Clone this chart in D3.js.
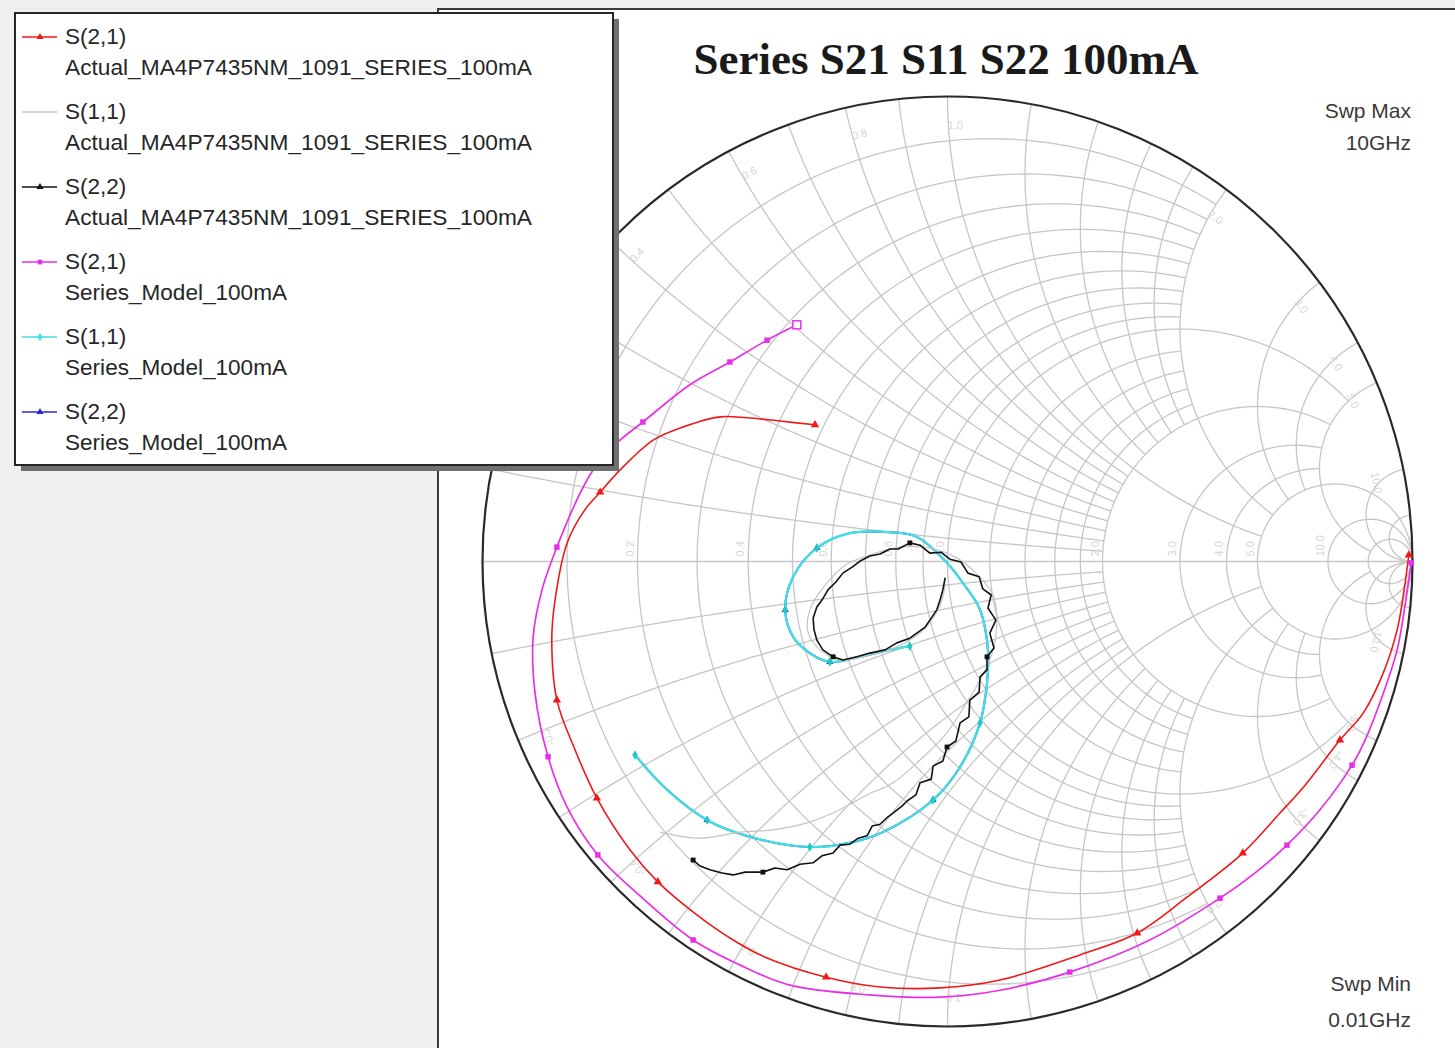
<!DOCTYPE html>
<html><head><meta charset="utf-8">
<script src="https://cdn.jsdelivr.net/npm/d3@7"></script>
<style>
html,body{margin:0;padding:0;background:#efefef;}
svg{display:block;}
</style></head>
<body>
<svg id="chart" width="1455" height="1048"></svg>
<script>
// ---------------- DATA (reflection / transmission coefficient, [Re, Im]) ----------------
const s21Actual = [
 [0.992,0.014],[0.982,-0.061],[0.967,-0.147],[0.937,-0.240],[0.894,-0.326],[0.844,-0.384],
 [0.769,-0.481],[0.715,-0.541],[0.635,-0.627],[0.515,-0.722],[0.408,-0.799],[0.285,-0.846],
 [0.113,-0.900],[-0.016,-0.917],[-0.145,-0.915],[-0.261,-0.894],[-0.392,-0.851],[-0.461,-0.814],
 [-0.539,-0.760],[-0.623,-0.689],[-0.683,-0.620],[-0.754,-0.509],[-0.801,-0.405],[-0.840,-0.298],
 [-0.851,-0.169],[-0.844,-0.083],[-0.818,0.040],[-0.780,0.111],[-0.747,0.149],[-0.704,0.197],
 [-0.633,0.261],[-0.575,0.287],[-0.489,0.311],[-0.431,0.309],[-0.360,0.302],[-0.285,0.294]
];
const s21ActualMarks = [0,5,8,10,15,19,21,23,28,35];

const s11Actual = [
 [-0.618,-0.582],[-0.532,-0.595],[-0.446,-0.582],[-0.375,-0.577],[-0.302,-0.562],[-0.246,-0.541],
 [-0.173,-0.502],[-0.117,-0.476],[-0.059,-0.427],[-0.005,-0.373],[0.038,-0.309],[0.070,-0.255],
 [0.098,-0.190],[0.106,-0.126],[0.098,-0.072],[0.059,-0.023],[0.016,0.010],[-0.038,0.029],
 [-0.102,0.031],[-0.167,0.014],[-0.220,-0.008],[-0.263,-0.051],[-0.296,-0.104],[-0.300,-0.152],
 [-0.274,-0.190],[-0.231,-0.212],[-0.167,-0.201],[-0.102,-0.180],[-0.048,-0.143],[-0.016,-0.094],
 [-0.005,-0.051]
];

const s22Actual = [
 [-0.547,-0.642],[-0.532,-0.655],[-0.511,-0.663],[-0.485,-0.670],[-0.461,-0.674],[-0.435,-0.668],
 [-0.397,-0.668],[-0.371,-0.659],[-0.345,-0.663],[-0.317,-0.651],[-0.289,-0.648],[-0.270,-0.633],
 [-0.246,-0.627],[-0.231,-0.610],[-0.210,-0.608],[-0.192,-0.595],[-0.173,-0.590],[-0.162,-0.569],
 [-0.145,-0.565],[-0.128,-0.549],[-0.117,-0.541],[-0.098,-0.526],[-0.087,-0.515],[-0.068,-0.502],
 [-0.059,-0.476],[-0.035,-0.468],[-0.031,-0.440],[-0.010,-0.429],[-0.001,-0.399],[0.018,-0.386],
 [0.027,-0.347],[0.046,-0.334],[0.048,-0.298],[0.068,-0.281],[0.070,-0.248],[0.085,-0.233],
 [0.085,-0.205],[0.100,-0.186],[0.091,-0.154],[0.104,-0.126],[0.087,-0.100],[0.094,-0.072],
 [0.076,-0.059],[0.068,-0.033],[0.044,-0.025],[0.029,-0.001],[0.005,0.005],[-0.014,0.020],
 [-0.038,0.018],[-0.059,0.035],[-0.081,0.040],[-0.106,0.027],[-0.124,0.027],[-0.145,0.016],
 [-0.167,0.012],[-0.188,0.001],[-0.205,-0.012],[-0.225,-0.025],[-0.240,-0.044],[-0.257,-0.061],
 [-0.270,-0.083],[-0.281,-0.098],[-0.289,-0.122],[-0.287,-0.147],[-0.281,-0.169],[-0.268,-0.190],
 [-0.246,-0.205],[-0.225,-0.212],[-0.195,-0.205],[-0.167,-0.197],[-0.134,-0.190],[-0.109,-0.175],
 [-0.081,-0.165],[-0.066,-0.154],[-0.048,-0.141],[-0.038,-0.126],[-0.023,-0.104],[-0.016,-0.083],
 [-0.010,-0.061],[-0.005,-0.035]
];
const s22ActualMarks = [0,6,28,36,50,66];

const s21Model = [
 [0.997,-0.003],[0.984,-0.094],[0.967,-0.190],[0.932,-0.298],[0.898,-0.384],[0.870,-0.438],
 [0.801,-0.534],[0.730,-0.610],[0.661,-0.670],[0.586,-0.724],[0.435,-0.814],[0.263,-0.883],
 [0.113,-0.922],[-0.016,-0.937],[-0.167,-0.932],[-0.339,-0.911],[-0.446,-0.868],[-0.547,-0.814],
 [-0.668,-0.713],[-0.752,-0.631],[-0.818,-0.528],[-0.859,-0.420],[-0.887,-0.283],[-0.891,-0.162],
 [-0.872,-0.061],[-0.840,0.031],[-0.790,0.147],[-0.762,0.197],[-0.711,0.255],[-0.655,0.300],
 [-0.554,0.380],[-0.468,0.429],[-0.388,0.476],[-0.324,0.509]
];
const s21ModelMarks = [0,5,7,9,11,17,19,21,25,29,31,32];

const s11Model = [
 [-0.672,-0.416],[-0.603,-0.491],[-0.517,-0.556],[-0.425,-0.592],[-0.296,-0.614],[-0.210,-0.605],
 [-0.139,-0.582],[-0.031,-0.513],[0.027,-0.442],[0.070,-0.347],[0.085,-0.261],[0.087,-0.190],
 [0.070,-0.104],[0.033,-0.046],[-0.001,-0.003],[-0.066,0.053],[-0.124,0.063],[-0.210,0.061],
 [-0.281,0.029],[-0.332,-0.033],[-0.349,-0.104],[-0.332,-0.162],[-0.296,-0.197],[-0.253,-0.216],
 [-0.188,-0.205],[-0.124,-0.190],[-0.081,-0.182]
];
const s11ModelMarks = [0,2,4,7,9,18,20,23,26];

const s22Model = [
 [-0.672,-0.416],[-0.603,-0.491],[-0.517,-0.556],[-0.425,-0.592],[-0.296,-0.614],[-0.210,-0.605],
 [-0.139,-0.582],[-0.031,-0.513],[0.027,-0.442],[0.070,-0.347],[0.085,-0.261],[0.087,-0.190],
 [0.070,-0.104],[0.033,-0.046],[-0.001,-0.003],[-0.066,0.053],[-0.124,0.063],[-0.210,0.061],
 [-0.281,0.029],[-0.332,-0.033],[-0.349,-0.104],[-0.332,-0.162],[-0.296,-0.197],[-0.253,-0.216],
 [-0.188,-0.205],[-0.124,-0.190],[-0.081,-0.182]
];
const s22ModelMarks = [2,7,18,20,23];

// Smith grid values
const rCircles     = [0.1,0.2,0.3,0.4,0.5,0.6,0.7,0.8,0.9,1.0,1.2,1.4,1.6,1.8,2.0,3.0,4.0,5.0,10,20];
const rCircleXMax  = [2,2,2,2,2,2,2,2,2,5,2,2,2,2,5,5,5,Infinity,Infinity,Infinity];
const xArcs        = [0.1,0.2,0.3,0.4,0.5,0.6,0.7,0.8,0.9,1.0,1.2,1.4,1.6,1.8,2.0,3.0,4.0,5.0,10,20];
const xArcRMax     = [2,2,2,2,2,2,2,2,2,5,2,2,2,2,5,5,5,20,Infinity,Infinity];
const gridLabels   = [0.2,0.4,0.6,0.8,1.0,2.0,3.0,4.0,5.0,10.0];

const legendNames   = ["S(2,1)","S(1,1)","S(2,2)","S(2,1)","S(1,1)","S(2,2)"];
const legendSources = ["Actual_MA4P7435NM_1091_SERIES_100mA","Actual_MA4P7435NM_1091_SERIES_100mA",
                       "Actual_MA4P7435NM_1091_SERIES_100mA","Series_Model_100mA","Series_Model_100mA","Series_Model_100mA"];
const chartTitle = "Series S21 S11 S22 100mA";
const sweepMax = ["Swp Max","10GHz"];
const sweepMin = ["Swp Min","0.01GHz"];

// ---------------- DRAWING ----------------
const svg = d3.select("#chart");
const cx = 947.5, cy = 561.5, R = 465;
const sx = d3.scaleLinear().domain([-1, 1]).range([cx - R, cx + R]);
const sy = d3.scaleLinear().domain([-1, 1]).range([cy + R, cy - R]);
const line = d3.line().x(d => sx(d[0])).y(d => sy(d[1]));
const smooth = d3.line().x(d => sx(d[0])).y(d => sy(d[1])).curve(d3.curveCatmullRom.alpha(0.5));

// background / frame
svg.append("rect").attr("x",0).attr("y",0).attr("width",1455).attr("height",1048).attr("fill","#efefef");
svg.append("rect").attr("x",438).attr("y",9).attr("width",1017).attr("height",1039).attr("fill","#ffffff");
svg.append("line").attr("x1",437).attr("x2",1455).attr("y1",9).attr("y2",9).attr("stroke","#3a3a3a").attr("stroke-width",2);
svg.append("line").attr("x1",438).attr("x2",438).attr("y1",8).attr("y2",1048).attr("stroke","#3a3a3a").attr("stroke-width",2);

function zToG(r, x) {
  const d = (r + 1) * (r + 1) + x * x;
  return [(r * r + x * x - 1) / d, 2 * x / d];
}
const grid = svg.append("g").attr("fill","none").attr("stroke","#c6c6c6").attr("stroke-width",1.3);

rCircles.forEach((r, i) => {
  const L = rCircleXMax[i];
  const tMax = isFinite(L) ? Math.atan(L) : Math.PI / 2 - 1e-5;
  const pts = d3.range(0, 361).map(k => zToG(r, Math.tan(-tMax + 2 * tMax * k / 360)));
  grid.append("path").attr("d", line(pts));
});
xArcs.forEach((x, i) => {
  const L = xArcRMax[i];
  const tMax = isFinite(L) ? Math.atan(L) : Math.PI / 2 - 1e-5;
  [1, -1].forEach(s => {
    const pts = d3.range(0, 241).map(k => zToG(Math.tan(tMax * k / 240), s * x));
    grid.append("path").attr("d", line(pts));
  });
});
// real axis
grid.append("line").attr("x1", sx(-1)).attr("x2", sx(1)).attr("y1", sy(0)).attr("y2", sy(0));

// faint labels
const lab = svg.append("g").attr("font-family","Liberation Sans, Arial, sans-serif").attr("font-size",11).attr("fill","#d6d6d6");
gridLabels.forEach(v => {
  const gx = sx((v - 1) / (v + 1));
  lab.append("text").attr("transform", `translate(${gx - 4},${sy(0) - 5}) rotate(-90)`).text(v.toFixed(1));
});
gridLabels.forEach(v => {
  [1, -1].forEach(s => {
    const g = zToG(0, s * v);
    const ang = Math.atan2(g[1], g[0]);
    const rr = 0.93;
    const off = -s * 0.018;
    const px = sx(rr * Math.cos(ang + off)), py = sy(rr * Math.sin(ang + off));
    const deg = -ang * 180 / Math.PI;
    lab.append("text").attr("text-anchor","middle")
      .attr("transform", `translate(${px},${py}) rotate(${deg + 90})`)
      .text((s < 0 ? "-" : "") + v.toFixed(1));
  });
});

// rim
svg.append("circle").attr("cx", sx(0)).attr("cy", sy(0)).attr("r", sx(1) - sx(0))
  .attr("fill","none").attr("stroke","#2a2a2a").attr("stroke-width",2.2);

// traces
function trace(data, color, width, gen) {
  svg.append("path").attr("d", (gen || smooth)(data)).attr("fill","none").attr("stroke",color)
    .attr("stroke-width",width).attr("stroke-linejoin","round");
}
function marks(data, idx, color, type, size) {
  const sym = d3.symbol().type(type).size(size);
  idx.forEach(i => {
    const d = data[i];
    svg.append("path").attr("d", sym()).attr("transform",`translate(${sx(d[0])},${sy(d[1])})`).attr("fill",color);
  });
}
const cRed = "#f01818", cGray = "#c4c4c4", cBlack = "#111111", cMag = "#e82ee8", cCyan = "#3ee2e2", cBlue = "#2b2bd0";

trace(s22Model, cBlue, 2);
marks(s22Model, s22ModelMarks, cBlue, d3.symbolTriangle, 22);
trace(s11Model, cCyan, 2.2);
marks(s11Model, s11ModelMarks, "#20c8c8", d3.symbolDiamond, 26);
trace(s11Actual, cGray, 1.2);
trace(s22Actual, cBlack, 1.6, line);
marks(s22Actual, s22ActualMarks, cBlack, d3.symbolSquare, 24);
trace(s21Actual, cRed, 1.6);
marks(s21Actual, s21ActualMarks, cRed, d3.symbolTriangle, 30);
trace(s21Model, cMag, 1.7);
marks(s21Model, s21ModelMarks, cMag, d3.symbolSquare, 30);
{ const d = s21Model[s21Model.length - 1];
  svg.append("rect").attr("x", sx(d[0]) - 4).attr("y", sy(d[1]) - 4).attr("width",8).attr("height",8)
    .attr("fill","#fff").attr("stroke",cMag).attr("stroke-width",1.5); }

// title & sweep texts
svg.append("text").attr("x",946).attr("y",74).attr("text-anchor","middle")
  .attr("font-family","Liberation Serif, Times New Roman, serif").attr("font-weight","bold")
  .attr("font-size",45).attr("fill","#1a1a1a").text(chartTitle);
const sw = svg.append("g").attr("font-family","Liberation Sans, Arial, sans-serif").attr("font-size",21)
  .attr("fill","#3a3a3a").attr("text-anchor","end");
sw.append("text").attr("x",1411).attr("y",118).text(sweepMax[0]);
sw.append("text").attr("x",1411).attr("y",150).text(sweepMax[1]);
sw.append("text").attr("x",1411).attr("y",991).text(sweepMin[0]);
sw.append("text").attr("x",1411).attr("y",1027).text(sweepMin[1]);

// legend
const lg = svg.append("g");
lg.append("rect").attr("x",21).attr("y",19).attr("width",598).attr("height",452).attr("fill","#707070");
lg.append("rect").attr("x",15).attr("y",13).attr("width",598).attr("height",452).attr("fill","#fff")
  .attr("stroke","#262626").attr("stroke-width",2);
const legColors = [cRed, cGray, cBlack, cMag, cCyan, cBlue];
const legSyms = [d3.symbolTriangle, null, d3.symbolTriangle, d3.symbolSquare, d3.symbolDiamond, d3.symbolTriangle];
legendNames.forEach((n, i) => {
  const y0 = 37 + 75 * i;
  lg.append("line").attr("x1",22).attr("x2",57).attr("y1",y0).attr("y2",y0)
    .attr("stroke",legColors[i]).attr("stroke-width",1.6);
  if (legSyms[i]) lg.append("path").attr("d", d3.symbol().type(legSyms[i]).size(22)())
    .attr("transform",`translate(40,${y0})`).attr("fill",legColors[i]);
  lg.append("text").attr("x",65).attr("y",44 + 75 * i).attr("font-family","Liberation Sans, Arial, sans-serif")
    .attr("font-size",22.5).attr("fill","#262626").text(n);
  const src = legendSources[i];
  lg.append("text").attr("x",65).attr("y",75 + 75 * i).attr("font-family","Liberation Sans, Arial, sans-serif")
    .attr("font-size",22.5).attr("fill","#262626")
    .attr("textLength", src.length > 20 ? 467 : 222).attr("lengthAdjust","spacingAndGlyphs").text(src);
});
</script>
</body></html>
